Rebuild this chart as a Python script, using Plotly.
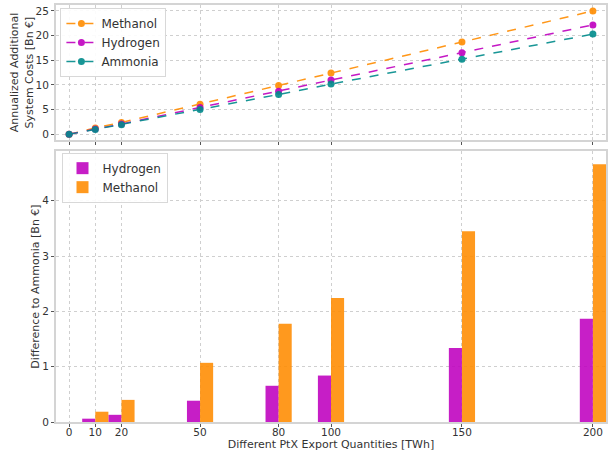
import plotly.graph_objects as go

export_twh = [0, 10, 20, 50, 80, 100, 150, 200]
methanol_cost = [0.0, 1.3, 2.4, 6.1, 9.9, 12.4, 18.7, 25.0]
hydrogen_cost = [0.0, 1.06, 2.09, 5.44, 8.74, 11.02, 16.55, 22.17]
ammonia_cost = [0.0, 1.0, 1.96, 5.05, 8.08, 10.18, 15.2, 20.3]

bar_twh = [10, 20, 50, 80, 100, 150, 200]
hydrogen_diff = [0.06, 0.13, 0.385, 0.655, 0.84, 1.34, 1.865]
methanol_diff = [0.186, 0.40, 1.07, 1.775, 2.24, 3.45, 4.66]

x_ticks = [0, 10, 20, 50, 80, 100, 150, 200]

ORANGE = "#ff8c00"
MAGENTA = "#bf00bf"
TEAL = "#008b8b"
FONT = "DejaVu Sans"
TXT = "#333333"
FRAME = "#d4d4d4"
GRID = "#cfcfcf"

fig = go.Figure()

for name, vals, col in [("Methanol", methanol_cost, ORANGE),
                        ("Hydrogen", hydrogen_cost, MAGENTA),
                        ("Ammonia", ammonia_cost, TEAL)]:
    fig.add_trace(go.Scatter(
        x=export_twh, y=vals, name=name, mode="lines+markers",
        line=dict(color=col, width=1.5, dash="dash"),
        marker=dict(color=col, size=7), opacity=0.9,
        xaxis="x", yaxis="y", legend="legend"))

fig.add_trace(go.Bar(x=bar_twh, y=hydrogen_diff, name="Hydrogen",
                     marker=dict(color=MAGENTA, line=dict(width=0)), opacity=0.88,
                     width=5, offset=-5, xaxis="x2", yaxis="y2", legend="legend2"))
fig.add_trace(go.Bar(x=bar_twh, y=methanol_diff, name="Methanol",
                     marker=dict(color=ORANGE, line=dict(width=0)), opacity=0.88,
                     width=5, offset=0, xaxis="x2", yaxis="y2", legend="legend2"))

axis_common = dict(showline=True, mirror=True, linecolor=FRAME, linewidth=2,
                   showgrid=True, gridcolor=GRID, griddash="dot", gridwidth=1,
                   zeroline=False, ticks="outside", ticklen=3, tickcolor="#555555",
                   tickwidth=1, automargin=False,
                   tickfont=dict(family=FONT, size=10.5, color=TXT))

top_bottom = (422 - 140) / 417
bot_top = (422 - 151) / 417

fig.update_layout(
    width=616, height=452,
    margin=dict(l=56, r=10, t=5, b=30),
    paper_bgcolor="white", plot_bgcolor="white",
    font=dict(family=FONT, size=11, color=TXT),
    barmode="overlay",
    xaxis=dict(axis_common, domain=[0, 1], range=[-5, 205], tickvals=x_ticks,
               showticklabels=False, anchor="y"),
    yaxis=dict(axis_common, domain=[top_bottom, 1], range=[-1.15, 26.2],
               tickvals=[0, 5, 10, 15, 20, 25], anchor="x",
               title=dict(text="Annualized Additional<br>System Costs [Bn €]",
                          font=dict(family=FONT, size=11, color=TXT), standoff=0)),
    xaxis2=dict(axis_common, domain=[0, 1], range=[-5, 205], tickvals=x_ticks,
                anchor="y2", ticklabelstandoff=-4,
                title=dict(text="Different PtX Export Quantities [TWh]",
                           font=dict(family=FONT, size=11, color=TXT), standoff=0)),
    yaxis2=dict(axis_common, domain=[0, bot_top], range=[0, 4.9],
                tickvals=[0, 1, 2, 3, 4], anchor="x2",
                title=dict(text="Difference to Ammonia [Bn €]",
                           font=dict(family=FONT, size=11, color=TXT), standoff=0)),
    legend=dict(x=0.008, y=0.993, xanchor="left", yanchor="top",
                bgcolor="rgba(255,255,255,0.9)", bordercolor="#d8d8d8", borderwidth=1,
                font=dict(family=FONT, size=12, color=TXT), tracegroupgap=0,
                itemwidth=30),
    legend2=dict(x=0.01, y=bot_top - 0.004, xanchor="left", yanchor="top",
                 bgcolor="rgba(255,255,255,0.9)", bordercolor="#d8d8d8", borderwidth=1,
                 font=dict(family=FONT, size=12, color=TXT), tracegroupgap=0,
                 itemwidth=30),
)

fig.write_html("out.html", config={"displayModeBar": False},
               post_script="document.body.style.margin='0px';document.body.style.overflow='hidden';")
